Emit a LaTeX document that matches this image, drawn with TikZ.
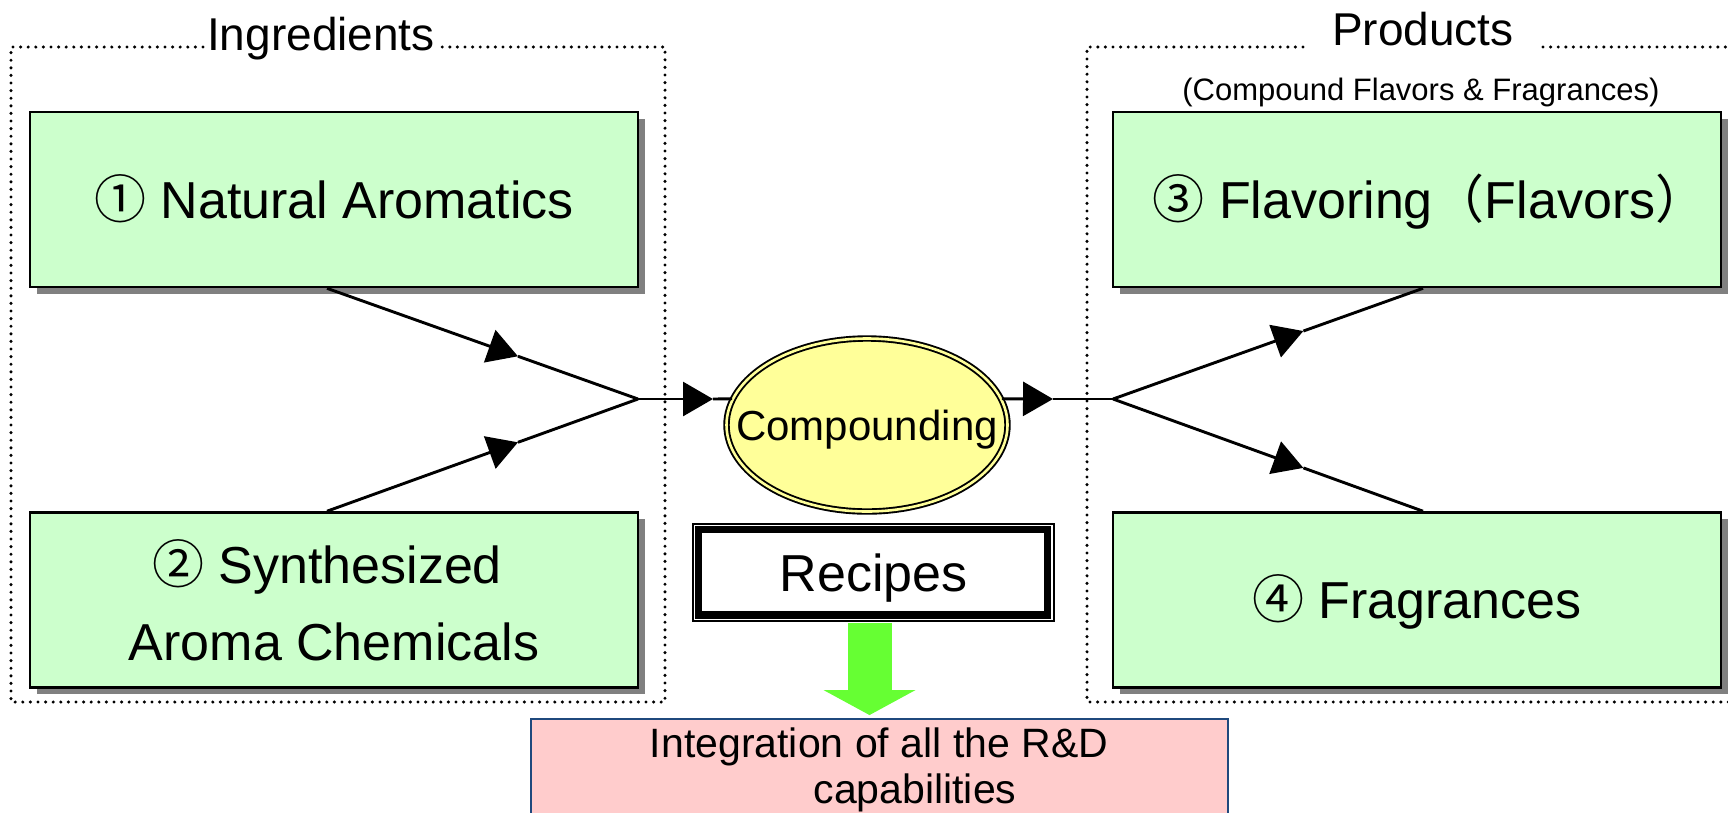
\documentclass[tikz,border=0pt]{standalone}
\usepackage{fontspec}
\setmainfont{Liberation Sans}
\newfontfamily\cjkfont{Noto Sans CJK JP}
\usetikzlibrary{arrows.meta,shapes.geometric,shadows,calc}

\definecolor{boxgreen}{HTML}{CCFFCC}
\definecolor{ovalyellow}{HTML}{FFFF99}
\definecolor{arrowgreen}{HTML}{66FF33}
\definecolor{rdpink}{HTML}{FFCCCC}
\definecolor{rdblue}{HTML}{1F497D}
\definecolor{shadowgray}{HTML}{808080}

\newcommand{\circnum}[1]{{\cjkfont #1}}

\begin{document}
\begin{tikzpicture}[x=1pt,y=-1pt,
  dotline/.style={line width=3.4pt, dash pattern=on 0pt off 7.6pt, line cap=round},
  stagebox/.style={draw=black, line width=2.6pt, fill=boxgreen,
    minimum width=608pt, minimum height=175pt, inner sep=0pt,
    general shadow={fill=shadowgray, shadow xshift=6.5pt, shadow yshift=-6.5pt},
    font=\fontsize{52}{77}\selectfont},
  oneline/.style={text height=37pt, text depth=0pt},
  conn/.style={line width=2.9pt, draw=black},
  tip/.style={-{Triangle[length=30pt,width=34pt]}},
  title/.style={anchor=base, font=\fontsize{46}{50}\selectfont},
]
\useasboundingbox (0,0) rectangle (1728,812);
\clip (0,0) rectangle (1728,812);

% dotted group frames
\draw[dotline] (203,47) -- (11,47) -- (11,702) -- (665,702) -- (665,47) -- (442,47);
\draw[dotline] (1303,47) -- (1087,47) -- (1087,702) -- (1745,702);
\draw[dotline] (1543,47) -- (1745,47);

% group titles
\node[title] (ingtitle) at (321,50) {Ingredients};
\node[title] (prodtitle) at (1423,45) {Products};
\node[anchor=base, font=\fontsize{31}{34}\selectfont] (prodsub) at (1421,100)
  {(Compound Flavors \& Fragrances)};

% ingredient and product boxes
\node[stagebox, oneline] (box1) at (334,199.5) {\circnum{①} Natural Aromatics};
\node[stagebox, align=center] (box2) at (334,600)
  {\circnum{②} Synthesized\hspace*{14pt}\\Aroma Chemicals};
\node[stagebox, oneline] (box3) at (1417,199.5)
  {\circnum{③} Flavoring{\cjkfont （}Flavors{\cjkfont ）}\kern-26pt};
\node[stagebox, oneline] (box4) at (1417,600) {\circnum{④} Fragrances};

% compounding oval
\node[ellipse, draw=black, line width=1.9pt, double=ovalyellow, double distance=2.6pt,
  fill=ovalyellow, minimum width=281pt, minimum height=173pt, inner sep=0pt] (comp) at (867,425) {};
\node[font=\fontsize{42}{46}\selectfont, text height=30pt, text depth=0pt] (complabel) at (comp.center) {Compounding};

% recipes box with thin-thick frame
\node[draw=black, line width=1.9pt, fill=white, minimum width=361pt, minimum height=97pt,
  inner sep=0pt, font=\fontsize{52}{60}\selectfont, oneline] (recipes) at (873.5,572.5) {Recipes};
\draw[line width=7.5pt] ($(recipes.north west)+(6.5,6.3)$) rectangle ($(recipes.south east)+(-7.3,-7.2)$);

% R&D integration box
\node[draw=rdblue, line width=1.9pt, fill=rdpink, minimum width=697pt, minimum height=112pt,
  inner sep=0pt] (rd) at (879.5,775) {};
\node[anchor=base, font=\fontsize{41}{46}\selectfont] (rdline1) at (879,757) {Integration of all the R\&D};
\node[anchor=base, font=\fontsize{41}{46}\selectfont] (rdline2) at (915,803) {capabilities};

% big green arrow
\draw[arrowgreen, line width=44pt, -{Triangle[length=25pt,width=91pt]}]
  ($(recipes.south)+(-4,1.5)$) -- ($(rd.north)+(-10,-3)$);

% junctions and mid-line arrow positions
\coordinate (jl) at (638,399);
\coordinate (jr) at (1113,399);
\coordinate (s1) at ($(box1.south)+(-7,0)$);
\coordinate (s2) at ($(box2.north)+(-7,0)$);
\coordinate (e3) at ($(box3.south)+(6,0)$);
\coordinate (e4) at ($(box4.north)+(6,0)$);
\coordinate (ta) at ($(s1)!0.614!(jl)$);
\coordinate (tb) at ($(s2)!0.614!(jl)$);
\coordinate (tc) at ($(jr)!0.614!(e3)$);
\coordinate (td) at ($(jr)!0.614!(e4)$);
\coordinate (hl) at (713,399);
\coordinate (hr) at (1053,399);

% ingredients into compounding
\draw[conn, tip] (s1) -- (ta);
\draw[conn] (ta) -- (jl);
\draw[conn, tip] (s2) -- (tb);
\draw[conn] (tb) -- (jl);
\draw[conn, tip] (jl) -- (hl);
\draw[conn] (hl) -- (comp.169);

% compounding out to products
\draw[conn, tip] (comp.11) -- (hr);
\draw[conn] (hr) -- (jr);
\draw[conn, tip] (jr) -- (tc);
\draw[conn] (tc) -- (e3);
\draw[conn, tip] (jr) -- (td);
\draw[conn] (td) -- (e4);
\end{tikzpicture}
\end{document}
